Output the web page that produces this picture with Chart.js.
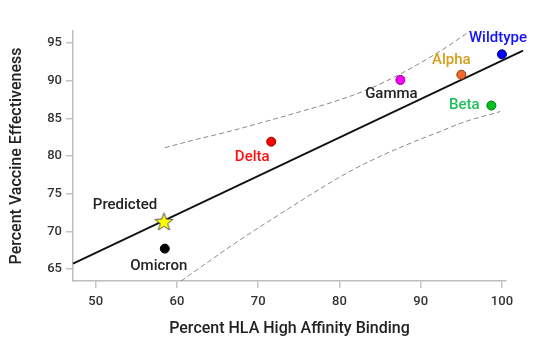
<!DOCTYPE html>
<html>
<head>
<meta charset="utf-8">
<script src="https://cdn.jsdelivr.net/npm/chart.js@4/dist/chart.umd.min.js"></script>
<style>
	html, body { margin: 0; padding: 0; background: #fff; }
	#wrap { width: 545px; height: 352px; }
</style>
</head>
<body>
<div id="wrap"><canvas id="chart" width="545" height="352"></canvas></div>
<script>
	// ===== DATA =====
	const variantNames = ['Wildtype', 'Alpha', 'Gamma', 'Beta', 'Delta', 'Omicron'];
	const hlaBinding = [100.0, 95.0, 87.5, 98.7, 71.6, 58.5];
	const vaccineEff = [93.5, 90.8, 90.1, 86.7, 81.9, 67.7];

	const predictedName = 'Predicted';
	const predictedX = [58.4];
	const predictedY = [71.3];

	const fitX = [47.2, 102.6];
	const fitY = [65.7, 94.0];

	const upperX = [58.5, 62.0, 66.2, 70.3, 75.2, 79.3, 83.4, 87.5, 92.5, 96.1];
	const upperY = [81.1, 82.1, 83.2, 84.4, 85.9, 87.2, 88.8, 90.9, 94.0, 96.6];

	const lowerX = [60.5, 67.4, 72.7, 76.8, 81.0, 85.1, 89.2, 92.5, 95.3, 99.8];
	const lowerY = [63.4, 68.6, 72.3, 75.1, 77.8, 80.0, 81.9, 83.3, 84.5, 85.9];

	const xTicks = [50, 60, 70, 80, 90, 100];
	const yTicks = [65, 70, 75, 80, 85, 90, 95];

	const xTitle = 'Percent HLA High Affinity Binding';
	const yTitle = 'Percent Vaccine Effectiveness';

	// ===== STYLES =====
	const fillColors = ['#0000ff', '#f2692e', '#ff00ff', '#00c21a', '#ff0000', '#000000'];
	const edgeColors = ['#00007a', '#8a3a10', '#8a008a', '#00701a', '#8a0000', '#000000'];
	const labelColors = ['#1212ff', '#d69e1a', '#222222', '#1fbf5a', '#ff1010', '#222222'];
	// pixel offsets of each label centre from its point
	const labelOffsets = [[-4, -16], [-10, -14], [-9, 14], [-27, 0], [-19, 16], [-6, 18]];
	const predictedOffset = [-39, -16];

	const FONT = 'Roboto, "DejaVu Sans", sans-serif';

	function makeStar(size) {
		const c = document.createElement('canvas');
		c.width = size; c.height = size;
		const g = c.getContext('2d');
		const cx = size / 2, cy = size / 2 + 0.8;
		const ro = size / 2 - 1, ri = ro * 0.42;
		g.beginPath();
		for (let i = 0; i < 10; i++) {
			const r = i % 2 === 0 ? ro : ri;
			const a = -Math.PI / 2 + i * Math.PI / 5;
			const px = cx + r * Math.cos(a), py = cy + r * Math.sin(a);
			if (i === 0) g.moveTo(px, py); else g.lineTo(px, py);
		}
		g.closePath();
		g.fillStyle = '#ffff00';
		g.fill();
		g.lineWidth = 1;
		g.strokeStyle = '#555';
		g.stroke();
		return c;
	}

	const toXY = (xs, ys) => xs.map((x, i) => ({ x: x, y: ys[i] }));

	const labelPlugin = {
		id: 'pointLabels',
		afterDatasetsDraw(chart) {
			const ctx = chart.ctx;
			ctx.save();
			ctx.font = '500 15px ' + FONT;
			ctx.textAlign = 'center';
			ctx.textBaseline = 'middle';
			const meta = chart.getDatasetMeta(3);
			meta.data.forEach((pt, i) => {
				ctx.fillStyle = labelColors[i];
				ctx.fillText(variantNames[i], pt.x + labelOffsets[i][0], pt.y + labelOffsets[i][1]);
			});
			const star = chart.getDatasetMeta(4).data[0];
			ctx.fillStyle = '#222';
			ctx.fillText(predictedName, star.x + predictedOffset[0], star.y + predictedOffset[1]);
			ctx.restore();
		}
	};

	const axisCommon = {
		type: 'linear',
		grid: { display: true, drawOnChartArea: false, drawTicks: true, tickLength: 7, color: '#c4c4c4', lineWidth: 1.5 },
		border: { display: true, color: '#bdbdbd', width: 1.5 },
	};

	const bandStyle = {
		type: 'line', borderColor: '#8a8a8a', borderWidth: 1, borderDash: [5, 3],
		pointRadius: 0, cubicInterpolationMode: 'monotone', clip: false, order: 4
	};

	new Chart(document.getElementById('chart'), {
		type: 'scatter',
		data: {
			datasets: [
				{
					type: 'line', data: toXY(fitX, fitY), borderColor: '#111', borderWidth: 1.8,
					pointRadius: 0, clip: false, order: 3
				},
				Object.assign({ data: toXY(upperX, upperY) }, bandStyle),
				Object.assign({ data: toXY(lowerX, lowerY) }, bandStyle),
				{
					data: toXY(hlaBinding, vaccineEff), backgroundColor: fillColors, borderColor: edgeColors,
					borderWidth: 1, pointRadius: 4.5, clip: false, order: 1
				},
				{
					data: toXY(predictedX, predictedY), pointStyle: makeStar(21), pointRadius: 10,
					clip: false, order: 0
				}
			]
		},
		options: {
			responsive: false,
			animation: false,
			layout: { padding: { left: 1, top: 31, right: 39, bottom: 0 } },
			plugins: { legend: { display: false }, tooltip: { enabled: false } },
			scales: {
				x: Object.assign({}, axisCommon, {
					position: 'bottom',
					min: 47.2, max: 100.5,
					afterBuildTicks: s => { s.ticks = xTicks.map(v => ({ value: v })); },
					afterFit: s => { s.height = 71; },
					ticks: { color: '#333', padding: 6, font: { family: FONT, size: 13, weight: '500' } },
					title: { display: true, text: xTitle, color: '#222', padding: { top: 0, bottom: 13 },
						font: { family: FONT, size: 16, weight: '500' } }
				}),
				y: Object.assign({}, axisCommon, {
					position: 'left',
					min: 63.4, max: 96.6,
					afterBuildTicks: s => { s.ticks = yTicks.map(v => ({ value: v })); },
					afterFit: s => { s.width = 72; },
					ticks: { color: '#333', padding: 4, font: { family: FONT, size: 13, weight: '500' } },
					title: { display: true, text: yTitle, color: '#222', padding: { top: 6, bottom: 0 },
						font: { family: FONT, size: 16, weight: '500' } }
				})
			}
		},
		plugins: [labelPlugin]
	});
</script>
</body>
</html>
